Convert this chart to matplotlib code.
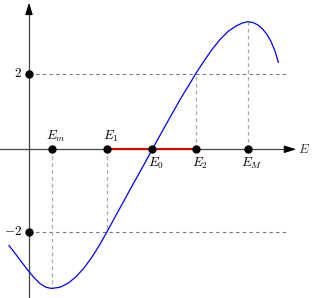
import numpy as np
import matplotlib.pyplot as plt

plt.rcParams['mathtext.fontset'] = 'cm'
plt.rcParams['font.family'] = ['DejaVu Serif']

# curve
curve_x = [-0.5, -0.325, -0.175, -0.025, 0.125, 0.275, 0.425, 0.568, 0.775, 0.975,
           1.175, 1.375, 1.575, 1.775, 1.95, 2.175, 2.375, 2.575, 2.775, 3.083,
           3.325, 3.575, 3.825, 4.025, 4.163, 4.375, 4.575, 4.775, 4.975, 5.175,
           5.325, 5.468, 5.6, 5.725, 5.85, 5.95, 6.05, 6.15, 6.233]
curve_y = [-2.559, -2.801, -3.013, -3.221, -3.412, -3.572, -3.670, -3.702, -3.668, -3.564,
           -3.391, -3.157, -2.864, -2.527, -2.191, -1.755, -1.367, -0.976, -0.598, 0.0,
           0.468, 0.944, 1.410, 1.753, 2.003, 2.348, 2.654, 2.920, 3.133, 3.279,
           3.354, 3.394, 3.372, 3.306, 3.186, 3.053, 2.867, 2.614, 2.314]

# special energies on the axis and the curve value there
e_names = ['$E_m$', '$E_1$', '$E_0$', '$E_2$', '$E_M$']
e_vals = [0.575, 1.95, 3.083, 4.163, 5.468]
e_curve = [-3.702, -2.191, 0.0, 2.003, 3.394]
label_above = [True, True, False, False, False]

# levels marked on the vertical axis
levels = [2.003, -2.191]
level_labels = ['$2$', '$-2$']

fig = plt.figure(figsize=(3.12, 2.98), dpi=100)
ax = fig.add_axes([0, 0, 1, 1])
ax.axis('off')
ax.set_xlim(-0.725, 7.075)
ax.set_ylim(-3.955, 3.971)

# dashed guides
for lv in levels:
    ax.plot([0, 6.48], [lv, lv], color='#777777', lw=0.8, ls=(0, (3, 3)), zorder=1)
for ev, ec in zip(e_vals, e_curve):
    if ec != 0:
        ax.plot([ev, ev], [0, ec], color='#aaaaaa', lw=0.9, ls=(0, (3, 2.5)), zorder=1)

# axes
ax.plot([-0.725, 6.5], [0, 0], color='#444444', lw=0.9, zorder=2)
ax.plot([0, 0], [-3.955, 3.65], color='#444444', lw=0.9, zorder=2)
ax.annotate('', xy=(6.68, 0), xytext=(6.4, 0),
            arrowprops=dict(arrowstyle='-|>,head_length=0.7,head_width=0.22',
                            color='black', lw=0.9, shrinkA=0, shrinkB=0), zorder=3)
ax.annotate('', xy=(0, 3.9), xytext=(0, 3.6),
            arrowprops=dict(arrowstyle='-|>,head_length=0.7,head_width=0.22',
                            color='black', lw=0.9, shrinkA=0, shrinkB=0), zorder=3)
ax.text(6.88, 0.0, '$E$', fontsize=9.5, ha='center', va='center', color='#333333')

# red interval
ax.plot([e_vals[1], e_vals[3]], [0, 0], color='#dd0000', lw=1.5, zorder=3)

# curve
ax.plot(curve_x, curve_y, color='#0000ff', lw=0.9, zorder=4)

# points and labels
ax.plot(e_vals, [0] * len(e_vals), 'o', color='black', ms=5, zorder=5)
for name, ev, up in zip(e_names, e_vals, label_above):
    if up:
        ax.text(ev + 0.1, 0.34, name, fontsize=9.5, ha='center', va='center')
    else:
        ax.text(ev + 0.1, -0.38, name, fontsize=9.5, ha='center', va='center')

ax.plot([0, 0], levels, 'o', color='black', ms=5, ls='none', zorder=5)
for lv, lab in zip(levels, level_labels):
    ax.text(-0.18, lv, lab, fontsize=9.5, ha='right', va='center')

fig.savefig('out.png', dpi=100)
